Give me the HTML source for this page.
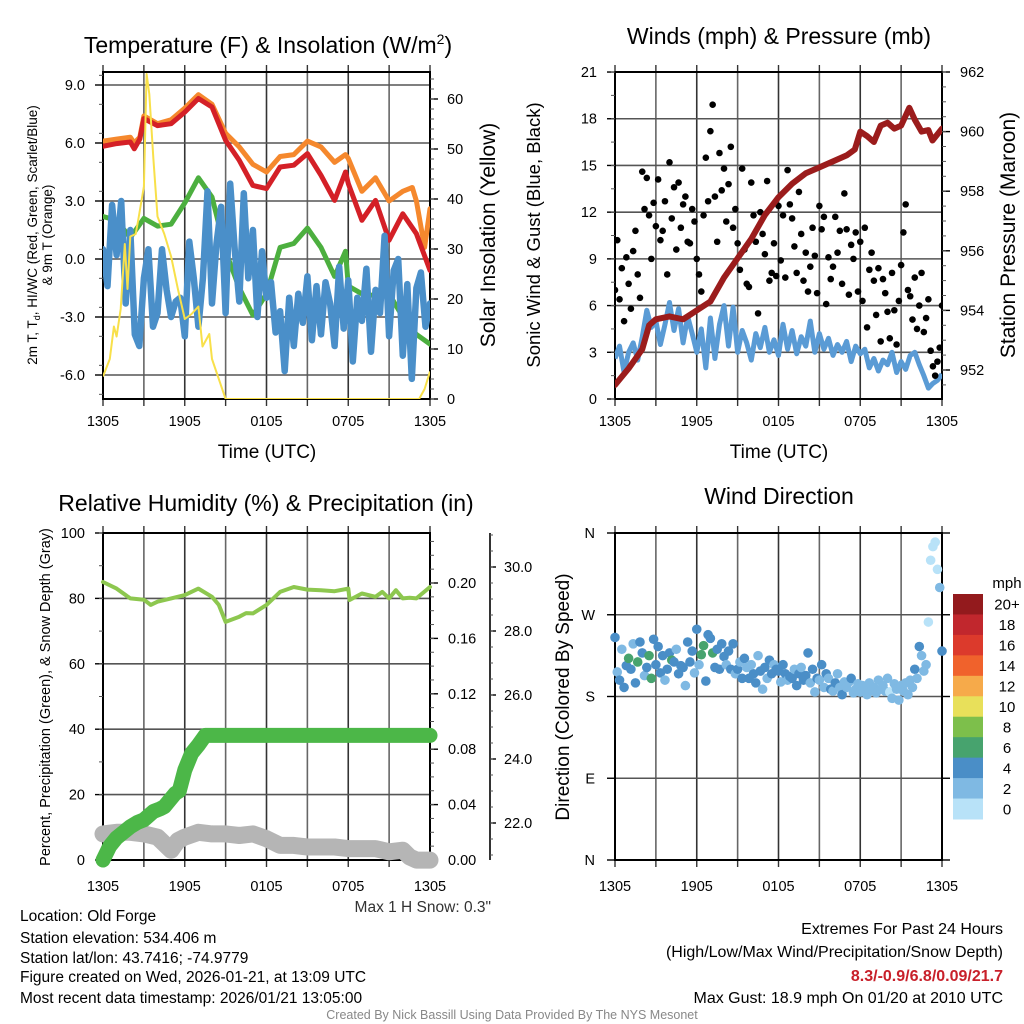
<!DOCTYPE html>
<html><head><meta charset="utf-8"><style>
html,body{margin:0;padding:0;background:#fff;}
svg{display:block;font-family:"Liberation Sans",Arial,sans-serif;}
</style></head><body>
<svg id="fig" width="1024" height="1024" viewBox="0 0 1024 1024" xmlns="http://www.w3.org/2000/svg">
<rect width="1024" height="1024" fill="#fff"/>
<g id="layer"></g>
<text x="268" y="53" font-size="23" text-anchor="middle">Temperature (F) &amp; Insolation (W/m<tspan font-size="14" dy="-9">2</tspan><tspan dy="9">)</tspan></text>
<text x="779" y="44" font-size="23" text-anchor="middle">Winds (mph) &amp; Pressure (mb)</text>
<text x="266" y="511" font-size="23" text-anchor="middle">Relative Humidity (%) &amp; Precipitation (in)</text>
<text x="779" y="504" font-size="23" text-anchor="middle">Wind Direction</text>

<text transform="translate(37,235) rotate(-90)" font-size="13.5" text-anchor="middle">2m T, T<tspan font-size="9" dy="3">d</tspan><tspan dy="-3">, HI/WC (Red, Green, Scarlet/Blue)</tspan></text>
<text transform="translate(52,235) rotate(-90)" font-size="13.5" text-anchor="middle">&amp; 9m T (Orange)</text>
<text transform="translate(495,235) rotate(-90)" font-size="21" text-anchor="middle">Solar Insolation (Yellow)</text>
<text transform="translate(540,235) rotate(-90)" font-size="18.5" text-anchor="middle">Sonic Wind &amp; Gust (Blue, Black)</text>
<text transform="translate(1015,235) rotate(-90)" font-size="21" text-anchor="middle">Station Pressure (Maroon)</text>
<text transform="translate(50,697) rotate(-90)" font-size="14.5" text-anchor="middle">Percent, Precipitation (Green), &amp; Snow Depth (Gray)</text>
<text transform="translate(569,697) rotate(-90)" font-size="19" text-anchor="middle">Direction (Colored By Speed)</text>
<text x="267" y="458" font-size="19" text-anchor="middle">Time (UTC)</text>
<text x="779" y="458" font-size="19" text-anchor="middle">Time (UTC)</text>

<text x="491" y="912" font-size="15.5" fill="#333" text-anchor="end">Max 1 H Snow: 0.3"</text>
<g font-size="15.5" fill="#000">
<text x="20" y="921">Location: Old Forge</text>
<text x="20" y="943">Station elevation: 534.406 m</text>
<text x="20" y="963">Station lat/lon: 43.7416; -74.9779</text>
<text x="20" y="982">Figure created on Wed, 2026-01-21, at 13:09 UTC</text>
<text x="20" y="1003">Most recent data timestamp: 2026/01/21 13:05:00</text>
</g>
<g font-size="16" text-anchor="end">
<text x="1003" y="934">Extremes For Past 24 Hours</text>
<text x="1003" y="957">(High/Low/Max Wind/Precipitation/Snow Depth)</text>
<text x="1003" y="981" fill="#c8202a" font-weight="bold">8.3/-0.9/6.8/0.09/21.7</text>
<text x="1003" y="1003">Max Gust: 18.9 mph On 01/20 at 2010 UTC</text>
</g>
<text x="512" y="1019" font-size="12.5" fill="#888" text-anchor="middle">Created By Nick Bassill Using Data Provided By The NYS Mesonet</text>
</svg>
<script>
// ---------- data ----------
const tempRedT=[0,1,2,2.3,2.7,3,4,5,6,7,8,9,10,11,12,13,14,15,16,17,17.8,18,19,20,21,22,23,24];
const tempRed=[5.83,5.97,6.05,5.7,6.2,7.26,6.9,7.0,7.6,8.3,7.86,6.14,5.1,3.8,3.64,4.76,4.85,5.45,4.33,3.03,4.5,3.9,2.0,3.03,0.97,2.34,1.31,-0.59];
const tempOrangeT=[0,1,2,2.3,2.7,3,4,5,6,7,8,9,10,11,12,13,14,15,16,17,17.8,18,19,20,21,22,22.7,23,23.6,24];
const tempOrange=[6.1,6.2,6.3,6.0,6.3,7.4,7.0,7.2,7.8,8.5,8.0,6.5,5.8,4.9,4.5,5.3,5.4,6.1,5.8,5.0,5.4,5.2,3.5,4.2,3.0,3.5,3.7,3.0,0.6,2.6];
const tempGreenT=[0,1,2,3,4,5,6,7,8,9,10,11,12,13,14,15,16,17,17.8,18,19,20,21,22,23,24];
const tempGreen=[2.2,2.0,1.1,2.1,1.7,1.8,2.9,4.2,3.2,0.4,-1.5,-2.9,-1.8,0.6,0.8,1.6,0.6,-0.9,0.4,-1.4,-1.8,-1.9,-1.8,-3.0,-3.9,-4.4];
const tempBlue=[0.5,-1.4,2.8,0.2,3.0,-2.3,1.5,-3.9,-4.5,-1.0,0.5,-3.5,-2.8,0.5,-1.6,-3.0,-2.2,-2.0,-4.0,0.9,-1.0,-3.5,-1.0,3.5,-2.3,0.8,2.7,-2.8,3.9,0.5,-2.2,3.4,-1.0,1.5,-3.0,0.4,-2.0,-1.2,-3.8,-2.7,-5.8,-2.0,-4.5,-1.8,-3.3,-0.9,-4.2,-1.4,-3.9,-1.2,-2.3,-4.5,-0.4,-3.6,-1.1,-5.3,-2.0,-3.2,-0.5,-4.8,-1.6,-2.8,1.2,-4.0,-0.6,0.0,-5.0,-1.3,-6.2,-1.5,-0.7,-3.5,-2.3];
const solarT=[0,0.5,0.8,1,1.3,1.6,1.8,2,2.4,2.6,3,3.2,3.4,3.7,4,4.5,5,5.5,6,6.5,7,7.3,7.8,8,8.5,9,23.2,23.6,24];
const solar=[4.5,8,14.5,12.5,18,31,22,32.5,33,36,42.5,65,61,48,36.5,33,28.5,22,16,17,18.5,10.5,13,8,4,0,0,2,5.5];
const windSust=[2.6,3.4,1.7,3.0,3.6,2.5,4.0,5.7,4.6,5.0,3.5,4.8,6.2,4.4,5.8,3.6,5.3,4.2,3.0,4.5,2.0,5.2,2.6,4.8,6.0,3.4,5.9,3.0,4.4,3.6,2.5,4.2,3.3,4.6,3.0,3.8,2.8,4.8,3.2,4.4,2.9,4.0,3.4,5.0,3.0,4.2,3.2,3.9,2.8,3.5,3.0,3.7,2.4,3.4,2.9,3.2,2.0,2.6,1.8,2.5,2.2,3.0,1.7,2.4,1.9,2.8,3.0,2.2,1.5,0.7,1.0,1.2,1.6];
const gusts=[7.0,10.2,6.4,8.4,5.0,9.1, 7.4,5.8,9.5,10.8,8.0,6.5, 14.6,12.2,14.2,11.8,9.0,12.6, 11.1,14.1,10.2,10.8,12.7,8.0, 15.2,11.6,13.6,9.6,13.9,11.0, 12.5,13.0,10.1,10.0,12.2,11.4, 9.0,8.0,6.9,11.8,15.5,12.7, 17.2,18.9,13.0,10.1,15.8,13.4, 14.8,11.4,13.8,16.2,11.0,12.2, 10.0,8.3,14.8,9.6,7.4,7.2, 13.9,11.8,10.1,5.5,12.0,10.6, 9.3,14.0,7.6,8.1,10.0,7.9, 12.4,8.9,11.8,7.8,14.7,12.5, 11.6,9.8,8.1,13.3,10.6,7.6, 9.4,6.9,8.5,11.0,9.2,6.8, 12.4,10.9,11.7,6.1,9.1,7.7, 8.5,11.7,9.4,10.8,7.4,13.2, 10.9,6.7,9.9,9.0,10.7,6.9, 10.1,6.3,11.0,4.6,8.3,9.4, 7.6,5.4,8.4,3.7,7.7,6.8, 5.6,3.9,8.1,5.7,3.5,6.3, 8.6,10.7,12.5,7.0,6.6,5.1, 7.8,4.5,6.0,8.1,4.3,5.2, 6.4,3.1,2.1,1.5,2.4,3.3,6.0];
const pressT=[0,1,2,2.5,3,4,5,6,7,8,9,10,11,12,13,14,15,16,17,17.6,18,18.5,19,19.5,20,20.5,21,21.6,22,22.5,23,23.3,24];
const press=[951.5,952.05,952.7,953.5,953.7,953.8,953.7,954.0,954.3,955.1,955.75,956.4,957.2,957.8,958.25,958.6,958.8,959.0,959.2,959.4,960.0,959.85,959.65,960.2,960.3,960.1,960.2,960.8,960.4,960.0,960.05,959.7,960.1];
const rhT=[0,1,2,3,3.5,4,5,6,7,8,8.5,9,10,10.5,11,12,13,14,15,16,17,18,18.1,19,20,20.5,21,21.5,22,22.5,23,24];
const rh=[85,83,80,79.6,78,79,80,81,83,80.5,78,72.8,74.4,75.5,75.4,78,82,83.5,82.7,82.5,82.2,83,79.5,81.5,80.5,82,80,82.5,80,80.2,80,83.5];
const precipT=[0,0.5,1,1.5,2,2.5,3,3.7,4.2,4.5,5.3,5.6,6,6.5,7,7.5,24];
const precip=[0,0.010,0.016,0.020,0.024,0.027,0.029,0.035,0.037,0.0385,0.048,0.05,0.065,0.077,0.083,0.090,0.090];
const snowT=[0,1,2,3,4,5,5.5,6,7,8,9,10,11,12,13,14,15,16,17,18,19,20,21,22,22.5,23,24];
const snow=[21.66,21.71,21.71,21.66,21.56,21.15,21.45,21.56,21.71,21.66,21.66,21.61,21.66,21.51,21.30,21.30,21.25,21.25,21.25,21.20,21.20,21.20,21.10,21.15,20.94,20.84,20.84];
const dirDeg=[245,207,198,232,190,214, 222,210,238,195,218,240, 228,203,212,225,200,243, 215,235,206,225,198,210, 228,220,218,232,205,214, 212,192,240,218,230,206, 254,215,226,236,197,248, 244,228,212,232,210,238, 224,215,230,210,238,205, 210,218,200,222,212,200, 215,205,195,225,208,188, 212,200,220,205,215,210, 208,196,215,205,198,202, 200,210,192,205,212,198, 203,228,195,210,185,200, 198,215,190,205,200,188, 186,195,205,190,182,196, 190,196,200,184,188,194, 185,192,189,182,195,187, 190,184,198,188,192,186, 200,185,178,194,188,176, 192,186,195,182,198,190, 210,200,235,225,208,215, 262,330,345,350,320,300,230];
const dirSpeed=[3.5,2.5,3.8,2.2,3.6,4.0, 6.2,3.5,2.4,3.8,6.0,3.4, 3.6,2.2,3.8,6.1,6.3,3.5, 3.9,3.5,4.2,3.0,2.4,3.6, 3.8,6.0,3.2,2.3,3.8,3.5, 3.5,2.0,3.6,3.7,3.0,2.2, 3.5,2.5,6.0,6.2,3.8,3.7, 3.6,6.1,3.4,3.8,3.5,3.6, 3.4,2.2,3.8,3.5,3.6,2.4, 3.5,2.0,3.7,3.6,2.2,3.4, 2.1,3.5,3.6,2.3,3.8,1.9, 3.6,2.2,3.5,3.7,2.0,3.4, 3.5,2.3,3.8,3.4,2.1,3.6, 3.7,2.2,3.5,3.6,2.4,3.8, 3.5,3.8,2.2,3.6,2.1,3.5, 2.3,3.6,2.0,3.5,2.2,3.4, 2.1,3.5,2.0,2.2,3.6,2.3, 2.0,2.2,3.5,2.1,2.3,1.9, 2.1,2.3,2.0,2.2,1.8,2.4, 2.0,2.2,1.9,2.3,2.1,2.0, 2.2,0.8,2.1,2.3,1.9,2.0, 2.1,2.3,1.8,2.0,2.2,2.0, 3.5,2.0,3.6,2.2,1.5,2.1, 0.8,0.6,0.5,0.7,0.9,1.5,3.5];
const xTickLabels=["1305","1905","0105","0705","1305"];
const speedLabels=["20+","18","16","14","12","10","8","6","4","2","0"];
const speedColors=["#931a1d","#c1272d","#dc3a2c","#f0622c","#f6aa4a","#e8e05a","#7dbf4b","#47a36e","#4a8ec7","#7fb9e3","#b8e2f8"];

// ---------- helpers ----------
const NS="http://www.w3.org/2000/svg";
const layer=document.getElementById('layer');
function el(tag,attrs,parent){const e=document.createElementNS(NS,tag);for(const k in attrs)e.setAttribute(k,attrs[k]);(parent||layer).appendChild(e);return e;}
function uniformT(n){const a=[];for(let i=0;i<n;i++)a.push(i*24/(n-1));return a;}
function line(x1,y1,x2,y2,st,w,p){return el('line',{x1:x1,y1:y1,x2:x2,y2:y2,stroke:st,'stroke-width':w},p);}
function txt(x,y,s,opts,p){const t=el('text',Object.assign({x:x,y:y,'font-size':14.5},opts||{}),p);t.textContent=s;return t;}
function pathD(ts,vs,xf,yf){return ts.map((t,i)=>(i?'L':'M')+xf(t).toFixed(1)+' '+yf(vs[i]).toFixed(1)).join(' ');}

function panel(name,x0,x1,yT,yB,hLines,bottomLabelY){
  const g=el('g',{});
  
  
  const xf=h=>x0+h*(x1-x0)/24;
  for(let k=1;k<8;k++){const x=xf(k*3);line(x,yT,x,yB,k%2?'#666':'#333',1.6,g);}
  hLines.forEach(y=>line(x0,y,x1,y,'#555',1.6,g));
  for(let k=0;k<=8;k++){const x=xf(k*3);line(x,yB,x,yB+7,'#333',1.4,g);line(x,yT,x,yT-7,'#333',1.4,g);}
  el('rect',{x:x0,y:yT,width:x1-x0,height:yB-yT,fill:'none',stroke:'#000','stroke-width':2},g);
  xTickLabels.forEach((s,i)=>{const t=txt(xf(i*6),bottomLabelY,s,{'text-anchor':'middle'},g);
    
    });
  return xf;
}
function leftAxis(x0,vals,labels,yf,minors,name){
  const g=el('g',{});
  
  
  vals.forEach((v,i)=>{line(x0-8,yf(v),x0,yf(v),'#000',1.4,g);txt(x0-18,yf(v)+5,labels[i],{'text-anchor':'end'},g);});
  minors.forEach(v=>line(x0-4,yf(v),x0,yf(v),'#555',1,g));
}
function rightAxis(x1,vals,labels,yf,minors,name,lx){
  const g=el('g',{});
  
  
  vals.forEach((v,i)=>{line(x1,yf(v),x1+8,yf(v),'#000',1.4,g);txt(lx,yf(v)+5,labels[i],{},g);});
  minors.forEach(v=>line(x1,yf(v),x1+4,yf(v),'#555',1,g));
}
function range(a,b,s){const r=[];for(let v=a;v<=b+1e-9;v+=s)r.push(+v.toFixed(4));return r;}

// ---------- Panel 1: temperature ----------
(function(){
  const x0=103,x1=430,yT=72,yB=399;
  const yL=v=>259-v*58/3, yS=s=>399-s*5;
  const xf=panel('temperature',x0,x1,yT,yB,[9,6,3,0,-3,-6].map(yL),426);
  leftAxis(x0,[9,6,3,0,-3,-6],["9.0","6.0","3.0","0.0","-3.0","-6.0"],yL,range(-7,9.5,1.5).filter(v=>v>=-7.2),'temperature-left-axis');
  rightAxis(x1,[0,10,20,30,40,50,60],["0","10","20","30","40","50","60"],yS,range(0,64,2),'solar-right-axis',447);
  const clip=el('clipPath',{id:'c1'});el('rect',{x:x0,y:yT,width:x1-x0,height:yB-yT},clip);
  const g=el('g',{'clip-path':'url(#c1)'});
  
  
  let p=el('path',{d:pathD(tempOrangeT,tempOrange,xf,yL),fill:'none',stroke:'#f5882d','stroke-width':5,'stroke-linejoin':'round','stroke-linecap':'round'},g);
  
  p=el('path',{d:pathD(tempRedT,tempRed,xf,yL),fill:'none',stroke:'#d42027','stroke-width':5,'stroke-linejoin':'round','stroke-linecap':'round'},g);
  
  p=el('path',{d:pathD(tempGreenT,tempGreen,xf,yL),fill:'none',stroke:'#4caf3f','stroke-width':5,'stroke-linejoin':'round','stroke-linecap':'round'},g);
  
  p=el('path',{d:pathD(uniformT(tempBlue.length),tempBlue,xf,yL),fill:'none',stroke:'#4a8fc9','stroke-width':6.5,'stroke-linejoin':'round','stroke-linecap':'round'},g);
  
  p=el('path',{d:pathD(solarT,solar,xf,yS),fill:'none',stroke:'#f8e04a','stroke-width':2,'stroke-linejoin':'round'},g);
  
})();

// ---------- Panel 2: winds & pressure ----------
(function(){
  const x0=615,x1=942,yT=72,yB=399;
  const yW=v=>399-v*15.57, yP=p=>370-(p-952)*29.8;
  const xf=panel('winds',x0,x1,yT,yB,[18,15,12,9,6,3].map(yW),426);
  leftAxis(x0,[0,3,6,9,12,15,18,21],["0","3","6","9","12","15","18","21"],yW,range(0,21,1.5),'wind-left-axis');
  rightAxis(x1,[952,954,956,958,960,962],["952","954","956","958","960","962"],yP,range(951.5,962,0.5),'pressure-right-axis',960);
  const clip=el('clipPath',{id:'c2'});el('rect',{x:x0,y:yT,width:x1-x0,height:yB-yT},clip);
  const g=el('g',{'clip-path':'url(#c2)'});
  
  
  let p=el('path',{d:pathD(uniformT(windSust.length),windSust,xf,yW),fill:'none',stroke:'#5a9bd5','stroke-width':5,'stroke-linejoin':'round'},g);
  
  const gt=uniformT(gusts.length);
  gusts.forEach((v,i)=>{const c=el('circle',{cx:xf(gt[i]),cy:yW(v),r:3.3,fill:'#000'},g);
    
    });
  p=el('path',{d:pathD(pressT,press,xf,yP),fill:'none',stroke:'#9b1c1c','stroke-width':6,'stroke-linejoin':'round','stroke-linecap':'round'},g);
  
})();

// ---------- Panel 3: RH & precip ----------
(function(){
  const x0=103,x1=430,yT=533,yB=860;
  const yR=v=>860-v*3.27, yPr=v=>860-v*1385, ySn=s=>823-(s-22)*32;
  const xf=panel('humidity',x0,x1,yT,yB,[80,60,40,20].map(yR),891);
  leftAxis(x0,[0,20,40,60,80,100],["0","20","40","60","80","100"],yR,range(0,100,10),'humidity-left-axis');
  rightAxis(x1,[0,0.04,0.08,0.12,0.16,0.20],["0.00","0.04","0.08","0.12","0.16","0.20"],yPr,range(0,0.23,0.01),'precip-right-axis',448);
  const sg=el('g',{});
  
  
  line(490,533,490,860,'#000',1.6,sg);
  [22,24,26,28,30].forEach(v=>{line(490,ySn(v),496,ySn(v),'#000',1.4,sg);txt(504,ySn(v)+5,v.toFixed(1),{},sg);});
  range(21,31,0.5).forEach(v=>{if(ySn(v)>=533&&ySn(v)<=860)line(490,ySn(v),493,ySn(v),'#555',1,sg);});
  const g=el('g',{});
  
  
  let p=el('path',{d:pathD(snowT,snow,xf,ySn),fill:'none',stroke:'#b5b5b5','stroke-width':17,'stroke-linejoin':'round','stroke-linecap':'round'},g);
  
  p=el('path',{d:pathD(precipT,precip,xf,yPr),fill:'none',stroke:'#4cb748','stroke-width':15,'stroke-linejoin':'round','stroke-linecap':'round'},g);
  
  p=el('path',{d:pathD(rhT,rh,xf,yR),fill:'none',stroke:'#8dc74f','stroke-width':4,'stroke-linejoin':'round','stroke-linecap':'round'},g);
  
})();

// ---------- Panel 4: wind direction ----------
(function(){
  const x0=615,x1=942,yT=533,yB=860;
  const yD=d=>860-d*(327/360);
  const xf=panel('wind-direction',x0,x1,yT,yB,[90,180,270].map(yD),891);
  const lg=el('g',{});
  
  
  [[0,"N"],[90,"E"],[180,"S"],[270,"W"],[360,"N"]].forEach(a=>{line(x0-8,yD(a[0]),x0,yD(a[0]),'#000',1.4,lg);txt(x0-20,yD(a[0])+5,a[1],{'text-anchor':'end'},lg);});
  [90,180,270].forEach(v=>line(x1,yD(v),x1+8,yD(v),'#000',1.4,lg));
  line(x1,yT,x1+8,yT,'#000',1.4,lg);line(x1,yB,x1+8,yB,'#000',1.4,lg);
  const g=el('g',{});
  
  
  const tt=uniformT(dirDeg.length);
  dirDeg.forEach((d,i)=>{
    const s=dirSpeed[i];let bin=Math.round(s/2);if(bin>10)bin=10;
    const c=el('circle',{cx:xf(tt[i]),cy:yD(d),r:4.8,fill:speedColors[10-bin]},g);
    
    
  });
  const cb=el('g',{});
  
  
  const bh=(819-594)/11;
  speedColors.forEach((c,i)=>{el('rect',{x:953,y:594+i*bh,width:30,height:bh+0.5,fill:c},cb);
    txt(1007,594+i*bh+bh/2+5.5,speedLabels[i],{'text-anchor':'middle','font-size':15},cb);});
  txt(1007,588,"mph",{'text-anchor':'middle','font-size':15},cb);
})();
</script>
</body></html>
